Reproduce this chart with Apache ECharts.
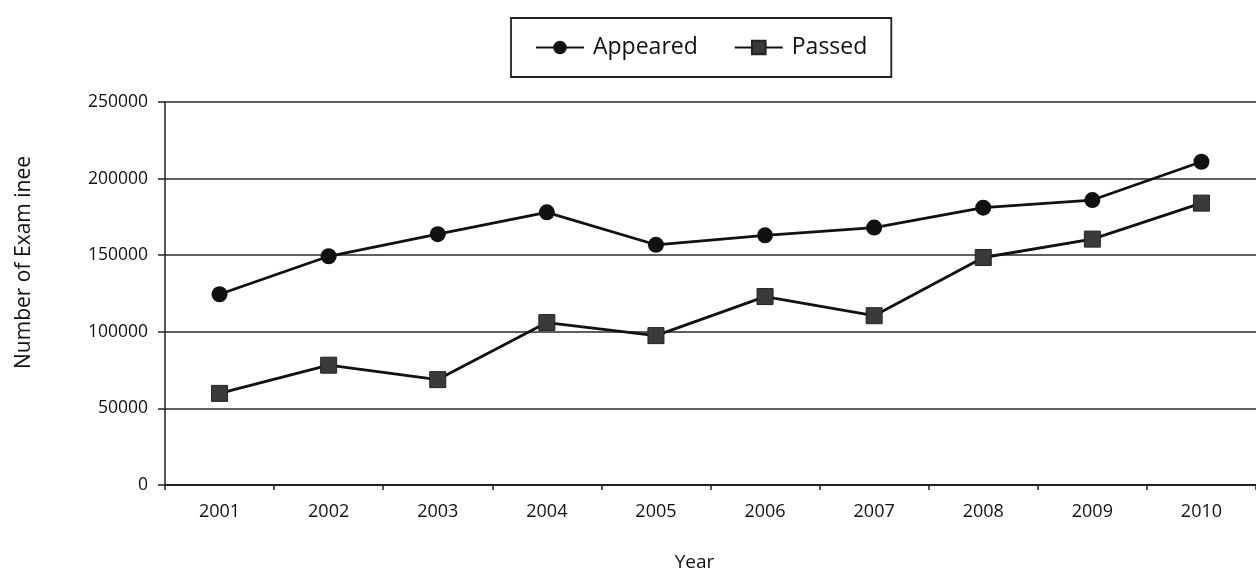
<!DOCTYPE html>
<html>
<head>
<meta charset="utf-8">
<script src="https://cdn.jsdelivr.net/npm/echarts@6/dist/echarts.min.js"></script>
<style>
  html, body { margin: 0; padding: 0; background: #fff; }
  #chart { width: 1256px; height: 577px; }
</style>
</head>
<body>
<div id="chart"></div>
<script>
// Examinees per year
const years = ['2001', '2002', '2003', '2004', '2005', '2006', '2007', '2008', '2009', '2010'];
const appeared = [124500, 149300, 163700, 178000, 156800, 163000, 168000, 181000, 186000, 211000];
const passed = [59800, 78200, 68800, 106000, 97500, 123000, 110500, 148500, 160500, 184000];
const yTicks = [0, 50000, 100000, 150000, 200000, 250000];

const font = '"Open Sans", "Noto Sans", sans-serif';
const ink = '#111';

const chart = echarts.init(document.getElementById('chart'), null, { renderer: 'canvas' });
chart.setOption({
  animation: false,
  backgroundColor: '#fff',
  textStyle: { fontFamily: font, color: ink },
  legend: {
    left: 511,
    top: 18,
    padding: [18, 24, 18, 24],
    itemGap: 36,
    itemWidth: 48,
    itemHeight: 17,
    borderColor: '#222',
    borderWidth: 1.8,
    textStyle: { fontSize: 23, color: ink, fontFamily: font, padding: [0, 0, 0, 4] },
    data: ['Appeared', 'Passed']
  },
  grid: { left: 165, right: -5, top: 102, bottom: 87, containLabel: false },
  xAxis: {
    type: 'category',
    data: years,
    boundaryGap: true,
    name: 'Year',
    nameLocation: 'middle',
    nameGap: 68,
    nameTextStyle: { fontSize: 19, color: ink, padding: [0, 32, 0, 0] },
    axisLine: { lineStyle: { color: '#222', width: 1.8 } },
    axisTick: { show: true, length: 5, lineStyle: { color: '#222', width: 1.5 } },
    axisLabel: { fontSize: 18, color: ink, margin: 18 }
  },
  yAxis: {
    type: 'value',
    min: yTicks[0],
    max: yTicks[yTicks.length - 1],
    interval: yTicks[1] - yTicks[0],
    name: 'Number of Exam inee',
    nameLocation: 'middle',
    nameGap: 130,
    nameTextStyle: { fontSize: 21, color: ink, padding: [0, 0, 0, 62] },
    axisLine: { show: true, lineStyle: { color: '#222', width: 1.5 } },
    axisTick: { show: true, length: 7, lineStyle: { color: '#222', width: 1.5 } },
    axisLabel: { fontSize: 17.5, color: ink, margin: 17, formatter: v => String(v) },
    splitLine: { show: true, lineStyle: { color: '#2a2a2a', width: 1.6 } }
  },
  series: [
    {
      name: 'Appeared',
      type: 'line',
      data: appeared,
      symbol: 'circle',
      symbolSize: 16,
      lineStyle: { color: '#111', width: 2.8 },
      itemStyle: { color: '#111' }
    },
    {
      name: 'Passed',
      type: 'line',
      data: passed,
      symbol: 'rect',
      symbolSize: 16,
      lineStyle: { color: '#111', width: 2.8 },
      itemStyle: { color: '#3a3a3a', borderColor: '#222', borderWidth: 1 }
    }
  ]
});
</script>
</body>
</html>
